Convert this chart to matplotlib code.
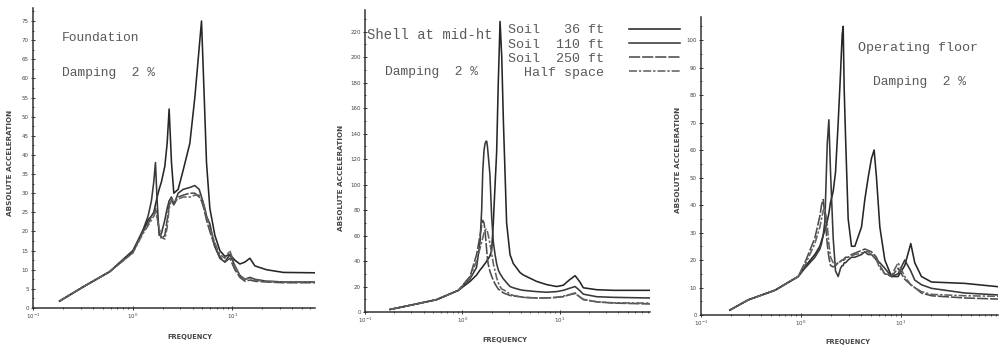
import matplotlib
matplotlib.use("Agg")
import matplotlib.pyplot as plt
from matplotlib.ticker import LogLocator, MultipleLocator, NullFormatter, LogFormatterSciNotation

# ---------------- data ----------------
series_labels = ["Soil   36 ft", "Soil  110 ft", "Soil  250 ft", "  Half space"]

# Panel 1 : Foundation
freq_found = [0.185, 0.318, 0.589, 1.01, 1.275, 1.43, 1.545, 1.632, 1.696, 1.763, 1.846, 1.949,
              2.105, 2.222, 2.327, 2.457, 2.593, 2.867, 3.218, 3.754, 4.215, 4.66, 4.918, 5.19,
              5.52, 5.965, 6.70, 7.52, 8.44, 9.47, 10.64, 11.94, 13.41, 15.05, 16.9, 22.1, 32.6, 67.8]
found_s36 = [1.8, 5.5, 9.5, 15, 20, 23, 24, 25, 27, 29, 31, 33, 37, 43, 52, 38, 30, 31, 36, 43,
             55, 68, 75, 58, 38, 26, 19, 15, 13.5, 14, 12.5, 11.5, 12, 13, 11, 10, 9.3, 9.2]
found_s110 = [1.8, 5.5, 9.5, 15, 20.5, 24, 28, 33, 38, 28, 19, 19.5, 23, 26, 28, 29, 27, 30, 31,
              31.5, 32, 31, 29, 27, 24, 22, 16, 13, 12, 14, 11, 8.5, 7.5, 8, 7.5, 7, 6.8, 6.8]
found_s250 = [1.8, 5.5, 9.5, 14.5, 20, 22, 24, 25, 26, 24, 20, 18, 19, 23, 27, 28, 27, 29, 29.5,
              30, 30, 29, 28, 26, 23, 20, 16, 13.5, 12, 13, 10, 8, 7, 7.3, 7, 6.8, 6.6, 6.6]
found_hs = [1.8, 5.5, 9.5, 14.5, 19.5, 21.5, 23, 24, 25, 23.5, 21, 18.5, 18, 21, 26, 28.5, 28,
            28.5, 29, 29, 29.5, 29.5, 28.5, 27, 24, 21, 17, 14, 13, 15, 11, 8.5, 7.5, 7.8, 7.3, 7, 6.8, 6.8]

# Panel 2 : Shell at mid-height
freq_shell = [0.181, 0.314, 0.544, 0.91, 1.2, 1.4, 1.52, 1.58, 1.62, 1.67, 1.71, 1.75, 1.78, 1.81,
              1.85, 1.92, 2.0, 2.08, 2.17, 2.25, 2.34, 2.44, 2.54, 2.64, 2.85, 3.09, 3.34, 3.91,
              4.24, 5.8, 7.35, 9.3, 10.9, 12.5, 14.4, 16.0, 17.5, 24.0, 35.6, 84.7]
shell_s36 = [2, 5.8, 9.7, 17, 24, 29, 33, 34.5, 35.5, 37, 38, 39, 40, 41, 42, 44, 48, 70, 100, 125,
             180, 228, 200, 150, 70, 45, 38, 31, 29, 24, 21.5, 20, 21, 25, 28.5, 24, 19, 17.5, 17, 17]
shell_s110 = [2, 5.8, 9.7, 17, 26, 35, 55, 80, 110, 127, 132, 134, 134, 130, 122, 108, 75, 55, 45,
              38, 33, 30, 28, 26, 23, 20, 19, 17.5, 17, 16, 15.5, 16, 17, 18.5, 20, 17, 14, 12, 11.5, 11]
shell_s250 = [2, 5.8, 9.7, 17, 28, 45, 60, 68, 72, 70, 64, 55, 48, 42, 37, 32, 28, 25, 22, 20, 18,
              17, 16, 15, 14, 13, 12.5, 12, 11.5, 11, 11, 11.5, 12, 13.5, 15, 12, 9.7, 8, 7, 6.3]
shell_hs = [2, 5.8, 9.7, 17, 27, 40, 50, 55, 58, 62, 64, 65, 65, 63, 60, 54, 46, 38, 32, 27, 23,
            20, 18, 17.5, 16, 14, 13, 12, 11.5, 11, 11, 11.5, 12.5, 13.5, 14.4, 12, 10, 8, 7.2, 7]

# Panel 3 : Operating floor
freq_floor = [0.195, 0.297, 0.55, 0.94, 1.096, 1.38, 1.549, 1.609, 1.672, 1.738, 1.834, 1.905,
              1.98, 2.105, 2.222, 2.362, 2.493, 2.59, 2.65, 2.713, 2.798, 2.973, 3.21, 3.467,
              4.044, 4.365, 4.713, 5.09, 5.41, 5.71, 6.17, 6.92, 8.07, 9.40, 10.96, 12.59, 13.8,
              16.1, 20.3, 43.7, 94.0]
floor_s36 = [1.8, 5.5, 9, 14, 17.5, 22, 25, 27, 29, 31, 34, 37, 41, 45, 52, 70, 88, 102, 105, 82,
             65, 35, 25, 25, 32, 42, 50, 57, 60, 50, 32, 20, 14, 14, 18, 26, 19, 14, 12, 11.5, 10.3]
floor_s110 = [1.8, 5.5, 9, 14, 17, 21, 24, 26, 29, 34, 62, 71, 52, 28, 16, 14, 17, 18, 18, 19,
              19, 20, 21, 21, 22, 23, 22, 22, 21, 20, 19, 17, 14, 15, 20, 16, 12.7, 11, 9.7, 8, 7.3]
floor_s250 = [1.8, 5.5, 9, 14, 19, 28, 36, 40, 42, 36, 26, 21, 18, 17.5, 18, 19, 19.5, 20, 20,
              20.5, 21, 21, 22, 22.5, 23.5, 24, 23.5, 23, 22, 21, 18, 15, 14, 17, 13, 11, 10, 8, 7, 6.2, 5.8]
floor_hs = [1.8, 5.5, 9, 14, 18, 26, 32, 35, 38, 39, 33, 26, 21, 19, 18.5, 19, 19.5, 20, 20, 20,
            20.5, 21, 21.5, 22, 22.5, 23, 23, 22, 21, 20, 17, 15, 14.5, 19, 14, 11, 10, 8.5, 7.5, 7, 6.8]

# ---------------- style ----------------
W, H = 1005, 352
line_colors = ["#262626", "#383838", "#4c4c4c", "#626262"]
line_styles = ["-", "-", (0, (7, 1.2)), (0, (5, 1.2, 1.5, 1.2))]
ink = "#333333"
mono = "Liberation Mono"

fig = plt.figure(figsize=(W / 100, H / 100), dpi=100)
fig.patch.set_facecolor("white")


def px_axes(left, right, bottom, top):
    return fig.add_axes([left / W, 1 - bottom / H, (right - left) / W, (bottom - top) / H])


panels = [
    dict(box=(33, 315, 308, 8), freq=freq_found, ys=[found_s36, found_s110, found_s250, found_hs],
         ytop=78.4, ystep=5),
    dict(box=(365, 650, 312, 10), freq=freq_shell, ys=[shell_s36, shell_s110, shell_s250, shell_hs],
         ytop=237, ystep=20),
    dict(box=(701, 998, 315, 17), freq=freq_floor, ys=[floor_s36, floor_s110, floor_s250, floor_hs],
         ytop=108.4, ystep=10),
]

axes = []
for p in panels:
    ax = px_axes(*p["box"])
    for ys, c, ls, lab in zip(p["ys"], line_colors, line_styles, series_labels):
        ax.plot(p["freq"], ys, color=c, lw=1.15, ls=ls, label=lab)
    ax.set_xscale("log")
    ax.set_xlim(0.1, p["freq"][-1])
    ax.set_ylim(0, p["ytop"])
    for s in ("top", "right"):
        ax.spines[s].set_visible(False)
    for s in ("left", "bottom"):
        ax.spines[s].set_color(ink)
        ax.spines[s].set_linewidth(1.1)
    ax.xaxis.set_major_locator(LogLocator(base=10))
    ax.xaxis.set_minor_locator(LogLocator(base=10, subs=range(2, 10)))
    ax.xaxis.set_minor_formatter(NullFormatter())
    ax.xaxis.set_major_formatter(LogFormatterSciNotation())
    ax.yaxis.set_major_locator(MultipleLocator(p["ystep"]))
    ax.yaxis.set_minor_locator(MultipleLocator(p["ystep"] / 2))
    ax.tick_params(axis="both", which="major", direction="inout", length=3, width=0.7,
                   color=ink, labelsize=4, labelcolor="#444444", pad=1.5)
    ax.tick_params(axis="both", which="minor", direction="inout", length=2, width=0.6, color=ink)
    ax.set_facecolor("none")
    axes.append(ax)


def ftext(x, y, s, **kw):
    fig.text(x / W, 1 - y / H, s, **kw)


# axis titles
for (xl, yl), (xf, yf) in zip([(10, 163), (341, 178), (678, 160)], [(190, 337), (505, 340), (848, 342)]):
    ftext(xl, yl, "ABSOLUTE ACCELERATION", rotation=90, ha="center", va="center",
          fontsize=5.2, fontweight="bold", color="#444444", family="DejaVu Sans")
    ftext(xf, yf, "FREQUENCY", ha="center", va="center", fontsize=4.8,
          fontweight="bold", color="#444444", family="DejaVu Sans")

# annotations
tcol = "#5a5a5a"
ftext(62, 38, "Foundation", fontsize=9.4, family=mono, color=tcol, va="center")
ftext(62, 73, "Damping  2 %", fontsize=9.4, family=mono, color=tcol, va="center")
ftext(367, 35, "Shell at mid-ht", fontsize=10.0, family=mono, color=tcol, va="center")
ftext(385, 72, "Damping  2 %", fontsize=9.4, family=mono, color=tcol, va="center")
ftext(858, 48, "Operating floor", fontsize=9.6, family=mono, color=tcol, va="center")
ftext(873, 82, "Damping  2 %", fontsize=9.4, family=mono, color=tcol, va="center")

handles, labels = axes[1].get_legend_handles_labels()
leg = fig.legend(handles, labels, loc="upper left", bbox_to_anchor=(508 / W, 1 - 24 / H),
                 markerfirst=False, frameon=False, prop={"family": mono, "size": 9.6},
                 handlelength=3.8, handletextpad=1.9, labelspacing=0.14, borderpad=0,
                 borderaxespad=0)
for t in leg.get_texts():
    t.set_color(tcol)

fig.savefig("out.png", dpi=100, facecolor="white")
